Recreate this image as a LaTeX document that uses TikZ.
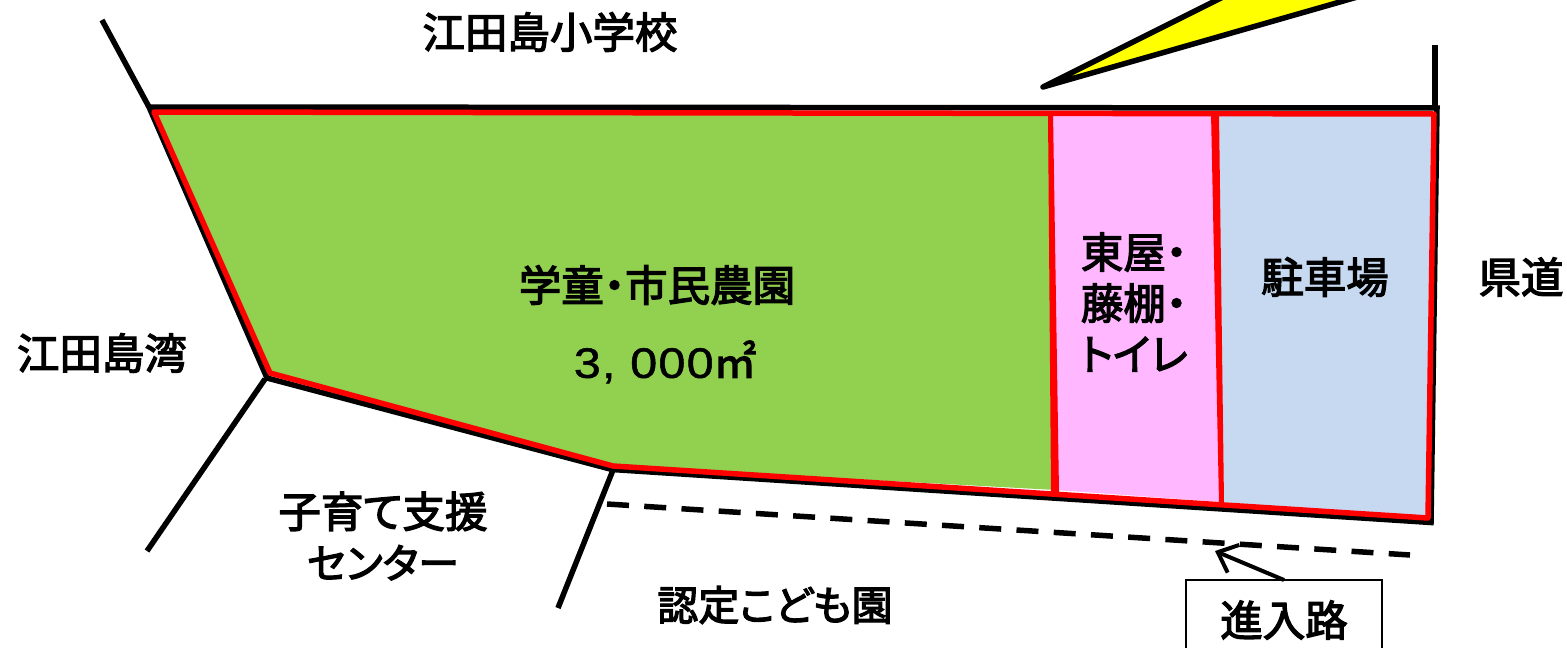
\documentclass[tikz,border=0pt]{standalone}
\usepackage{fontspec}
\usetikzlibrary{arrows.meta}
\newfontfamily\jpfont[RawFeature={+palt},FakeBold=3]{Noto Sans CJK JP}
\newfontfamily\latinfont[FakeBold=1.2,FakeStretch=1.14]{Liberation Sans}
\definecolor{farmgreen}{HTML}{92D050}
\definecolor{hutpink}{HTML}{FFB7FF}
\definecolor{parkblue}{HTML}{C6D9F1}
\definecolor{boltyellow}{RGB}{255,255,0}
\tikzset{
  blackline/.style={draw=black,line width=5.5pt,line cap=butt},
  redline/.style={draw=red,line width=5.5pt,line join=round},
  label/.style={inner sep=0pt,outer sep=0pt,align=center,text=black,font=\jpfont\fontsize{42.5}{51}\selectfont},
}
\begin{document}
\begin{tikzpicture}[x=1pt,y=-1pt]
\useasboundingbox (0,0) rectangle (1567,648);
\clip (0,0) rectangle (1567,648);
\fill[white] (0,0) rectangle (1567,648);
% named corners
\coordinate (nw) at (149,107);
\coordinate (ne) at (1437,108);
\coordinate (se) at (1431,522.5);
\coordinate (sm) at (612,469.5);
\coordinate (sw) at (267,378);
\coordinate (road1) at (102,20);
\coordinate (road2a) at (265,379);
\coordinate (road2b) at (147,551);
\coordinate (road3a) at (613,470);
\coordinate (road3b) at (558,608);
\coordinate (road4) at (1435,45);
\coordinate (road4b) at (1435,108);
\coordinate (dasha) at (607,504);
\coordinate (dashb) at (1410,555);
\coordinate (arrowtip) at (1215,551);
% lightning mark
\filldraw[fill=boltyellow,draw=black,line width=5.5pt,line join=round] (1043,87) -- (1307,-45) -- (1504,-45) -- cycle;
% site areas
\fill[farmgreen] (154,112) -- (1052,113) -- (1056,490) -- (613,466) -- (270,373) -- cycle;
\fill[hutpink] (1050,113) -- (1215,114) -- (1221,502) -- (1056,490) -- cycle;
\fill[parkblue] (1215,114) -- (1435,115) -- (1428,518) -- (1221,502) -- cycle;
% outer outline
\draw[blackline,line join=miter] (nw) -- (ne) -- (se) -- (sm) -- (sw) -- cycle;
\draw[redline] (154,112) -- (1434,114) -- (1428,518) -- (613,466) -- (270,373) -- cycle;
% dividers
\fill[red] (1048,112) -- (1053,112) -- (1059,492) -- (1051,492) -- cycle;
\fill[red] (1211,112) -- (1219,112) -- (1224,503) -- (1219,503) -- cycle;
% roads
\draw[blackline] (road1) -- (nw);
\draw[blackline] (road2a) -- (road2b);
\draw[blackline] (road3a) -- (road3b);
\draw[blackline] (road4) -- (road4b);
\draw[blackline,dash pattern=on 22pt off 15.3pt] (dasha) -- (dashb);
% labels
\node[label] (school) at (550,32) {江田島小学校};
\node[label] (bay) at (102,353) {江田島湾};
\node[label] (farm) at (657,285) {学童・市民農園};
\node[label,font=\latinfont\fontsize{42.5}{51}\selectfont] (area) at (665,362) {\addfontfeatures{LetterSpace=3}3, 000\jpfont ㎡};
\node[label] (hut) at (1134,302) {東屋・\\藤棚・\\トイレ};
\node[label] (park) at (1325,277) {駐車場};
\node[label] (pref) at (1521,277) {県道};
\node[label] (care) at (383,536) {子育て支援\\{\fontsize{41}{51}\selectfont センター}};
\node[label,font=\jpfont\fontsize{41}{51}\selectfont] (nursery) at (775,605) {認定こども園};
\node[label,draw=black,line width=1.8pt,minimum width=196pt,minimum height=80pt] (entry) at (1284,620) {進入路};
\draw[draw=black,line width=4pt,-{Straight Barb[length=17pt,width=30pt]}] (entry.north) -- (arrowtip);
\end{tikzpicture}
\end{document}
